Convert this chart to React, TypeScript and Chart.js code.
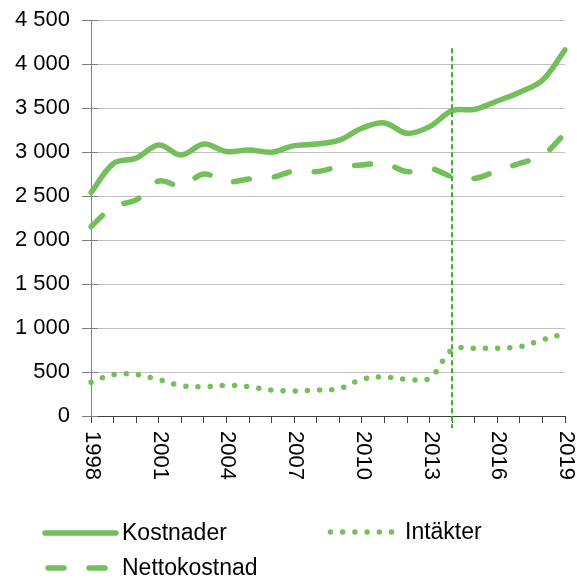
import React, { useEffect, useRef } from 'react';
import { Chart, registerables } from 'chart.js';

Chart.register(...registerables);

const years = ['1998', '1999', '2000', '2001', '2002', '2003', '2004', '2005', '2006', '2007', '2008', '2009', '2010', '2011', '2012', '2013', '2014', '2015', '2016', '2017', '2018', '2019'];
const kostnader = [2540, 2870, 2930, 3080, 2966, 3090, 3005, 3023, 2998, 3072, 3090, 3135, 3270, 3330, 3212, 3288, 3470, 3485, 3580, 3680, 3815, 4160];
const nettokostnad = [2152, 2380, 2455, 2670, 2614, 2750, 2660, 2693, 2710, 2784, 2777, 2833, 2852, 2871, 2777, 2815, 2720, 2700, 2788, 2871, 2960, 3212];
const intakter = [383, 472, 472, 413, 345, 333, 348, 333, 295, 284, 295, 311, 417, 443, 417, 428, 754, 769, 769, 788, 864, 939];
const yTicks = [0, 500, 1000, 1500, 2000, 2500, 3000, 3500, 4000, 4500];
const xTickLabels = ['1998', '2001', '2004', '2007', '2010', '2013', '2016', '2019'];
const seriesNames = ['Kostnader', 'Nettokostnad', 'Intäkter'];
const markerYear = '2014';
const markerTop = 4180;

const GREEN = '#73bf5b';
const MARKER = '#3fae2c';
const FONT = '"Liberation Sans", Arial, sans-serif';

const fmt = (v: number) => String(v).replace(/\B(?=(\d{3})+(?!\d))/g, ' ');

const legendPos = [
  { x: 45, y: 533, len: 71, tx: 122 },
  { x: 48, y: 568, len: 59, tx: 122 },
  { x: 330.5, y: 532, len: 62, tx: 405 },
];

const customPlugin = {
  id: 'customDraw',
  afterDatasetsDraw(chart: any) {
    const ctx = chart.ctx;
    const xs = chart.scales.x;
    const ys = chart.scales.y;
    const area = chart.chartArea;
    ctx.save();
    const x = Math.round(xs.getPixelForValue(years.indexOf(markerYear)));
    ctx.strokeStyle = MARKER;
    ctx.lineWidth = 2;
    ctx.setLineDash([5, 3]);
    ctx.beginPath();
    ctx.moveTo(x, ys.getPixelForValue(markerTop));
    ctx.lineTo(x, area.bottom + 12);
    ctx.stroke();
    ctx.restore();
  },
  afterDraw(chart: any) {
    const ctx = chart.ctx;
    const xs = chart.scales.x;
    const ys = chart.scales.y;
    const area = chart.chartArea;
    ctx.save();
    ctx.strokeStyle = '#808080';
    ctx.lineWidth = 1;
    yTicks.forEach((v) => {
      const y = Math.round(ys.getPixelForValue(v)) + 0.5;
      ctx.beginPath();
      ctx.moveTo(area.left, y);
      ctx.lineTo(area.left + 7, y);
      ctx.stroke();
    });
    ctx.fillStyle = '#000';
    ctx.font = `22px ${FONT}`;
    ctx.textAlign = 'left';
    ctx.textBaseline = 'middle';
    xTickLabels.forEach((lbl) => {
      const px = xs.getPixelForValue(years.indexOf(lbl));
      ctx.save();
      ctx.translate(px + 1, area.bottom + 15);
      ctx.rotate(Math.PI / 2);
      ctx.fillText(lbl, 0, 0);
      ctx.restore();
    });
    chart.data.datasets.forEach((ds: any, i: number) => {
      const p = legendPos[i];
      ctx.save();
      ctx.strokeStyle = ds.borderColor;
      ctx.lineWidth = ds.borderWidth;
      ctx.lineCap = 'round';
      ctx.setLineDash(ds.borderDash || []);
      ctx.beginPath();
      ctx.moveTo(p.x, p.y);
      ctx.lineTo(p.x + p.len, p.y);
      ctx.stroke();
      ctx.restore();
      ctx.fillStyle = '#000';
      ctx.font = `23px ${FONT}`;
      ctx.textAlign = 'left';
      ctx.textBaseline = 'middle';
      ctx.fillText(ds.label, p.tx, p.y + 1);
    });
    ctx.restore();
  },
};

export default function App() {
  const ref = useRef<HTMLCanvasElement>(null);
  useEffect(() => {
    document.body.style.margin = '0';
    const canvas = ref.current;
    if (!canvas) return;
    const chart = new Chart(canvas, {
      type: 'line',
      data: {
        labels: years,
        datasets: [
          {
            label: seriesNames[0],
            data: kostnader,
            borderColor: GREEN,
            borderWidth: 5.5,
            borderCapStyle: 'round',
            borderJoinStyle: 'round',
            pointRadius: 0,
            tension: 0.35,
          },
          {
            label: seriesNames[1],
            data: nettokostnad,
            borderColor: GREEN,
            borderWidth: 5.5,
            borderDash: [16, 25],
            borderCapStyle: 'round',
            borderJoinStyle: 'round',
            pointRadius: 0,
            tension: 0.35,
          },
          {
            label: seriesNames[2],
            data: intakter,
            borderColor: GREEN,
            borderWidth: 5.5,
            borderDash: [0, 12.2],
            borderCapStyle: 'round',
            borderJoinStyle: 'round',
            pointRadius: 0,
            tension: 0.35,
          },
        ],
      },
      options: {
        responsive: false,
        animation: false,
        devicePixelRatio: 1,
        layout: { padding: { top: 20, right: 12, bottom: 92, left: 0 } },
        plugins: { legend: { display: false }, tooltip: { enabled: false } },
        scales: {
          x: {
            type: 'category',
            offset: false,
            grid: { display: true, drawOnChartArea: false, drawTicks: true, tickLength: 7, color: '#404040', lineWidth: 1 },
            border: { display: true, color: '#404040', width: 1 },
            ticks: { display: false, autoSkip: false },
            afterFit: (s: any) => { s.height = 70; },
          },
          y: {
            min: 0,
            max: 4500,
            afterBuildTicks: (s: any) => { s.ticks = yTicks.map((v) => ({ value: v })); },
            ticks: {
              padding: 12,
              color: '#000',
              font: { family: FONT, size: 22, lineHeight: 0.6 },
              callback: (v: any) => fmt(Number(v)),
            },
            grid: { color: '#c0c0c0', tickColor: '#808080', tickLength: 9, lineWidth: 1 },
            border: { display: true, color: '#808080', width: 1 },
            afterFit: (s: any) => { s.width = 91; },
          },
        },
      },
      plugins: [customPlugin],
    } as any);
    return () => chart.destroy();
  }, []);
  return <canvas ref={ref} width={577} height={578} style={{ display: 'block' }} />;
}
